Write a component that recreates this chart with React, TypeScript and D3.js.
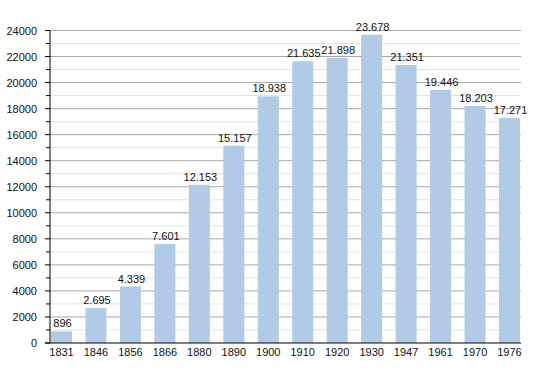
import React from 'react';
import * as d3 from 'd3';

const years = ['1831', '1846', '1856', '1866', '1880', '1890', '1900', '1910', '1920', '1930', '1947', '1961', '1970', '1976'];
const population = [896, 2695, 4339, 7601, 12153, 15157, 18938, 21635, 21898, 23678, 21351, 19446, 18203, 17271];
const labels = ['896', '2.695', '4.339', '7.601', '12.153', '15.157', '18.938', '21.635', '21.898', '23.678', '21.351', '19.446', '18.203', '17.271'];
const majorTicks = d3.range(0, 24001, 2000);
const minorTicks = d3.range(1000, 24000, 2000);

const W = 550, H = 373;
const left = 50, right = 521, top = 30.5, bottom = 343;
const font = 'Liberation Sans, Arial, sans-serif';

export default function App() {
  const y = d3.scaleLinear().domain([0, 24000]).range([bottom, top]);
  const x = d3.scaleBand().domain(years).range([left + 1, right - 1]).paddingInner(0.39).paddingOuter(0);
  const bw = x.bandwidth();

  return (
    <svg width={W} height={H} style={{ position: 'absolute', left: 0, top: 0, background: '#fff' }}
         fontFamily={font} fontSize={11}>
      {minorTicks.map(t =>
        <g key={'m' + t}>
          <line x1={left} x2={right} y1={y(t)} y2={y(t)} stroke="#e2e2e2" />
          <line x1={left - 4} x2={left} y1={y(t)} y2={y(t)} stroke="#000" />
        </g>
      )}
      {majorTicks.map(t =>
        <g key={'M' + t}>
          {t > 0 && <line x1={left} x2={right} y1={y(t)} y2={y(t)} stroke="#a8a8a8" />}
          <line x1={left - 5} x2={left} y1={y(t)} y2={y(t)} stroke="#000" />
          <text x={left - 13} y={y(t) + 4} textAnchor="end" fill="#111">{t}</text>
        </g>
      )}
      {years.map((yr, i) =>
        <g key={yr}>
          <rect x={x(yr)} y={y(population[i])} width={bw} height={bottom - y(population[i])} fill="#b1cbe7" />
          <text x={(x(yr) as number) + bw / 2 + 1} y={y(population[i]) - 4} textAnchor="middle" fill="#111">{labels[i]}</text>
          <text x={(x(yr) as number) + bw / 2} y={356} textAnchor="middle" fill="#111">{yr}</text>
        </g>
      )}
      <line x1={left} x2={left} y1={top} y2={bottom} stroke="#000" />
      <line x1={left - 5} x2={right} y1={bottom} y2={bottom} stroke="#000" />
    </svg>
  );
}
